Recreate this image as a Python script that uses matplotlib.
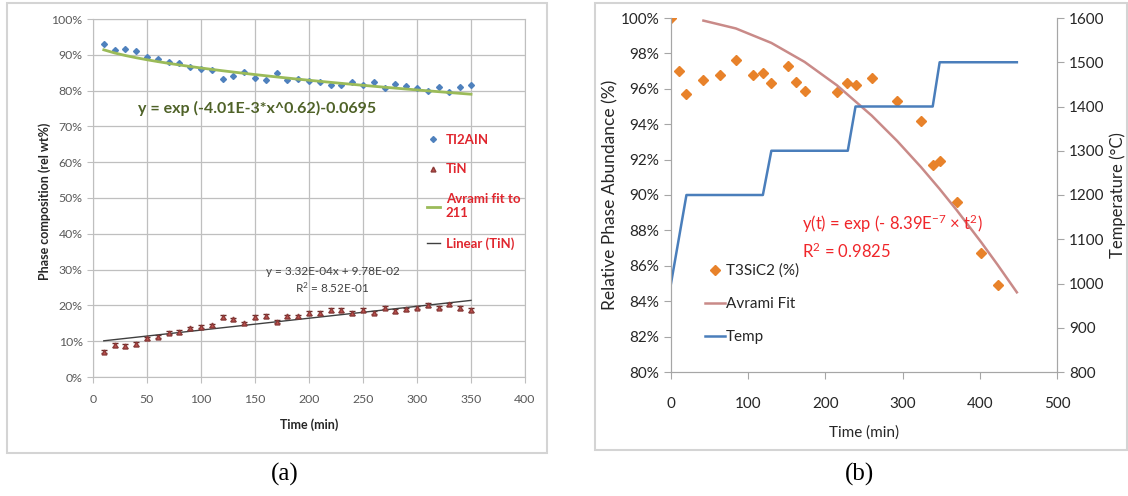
# Dos gráficas lado a lado: (a) composición de fases Ti2AlN / TiN con sus ajustes
# y (b) abundancia relativa de T3SiC2 con ajuste de Avrami y perfil de temperatura.

import numpy as np
import matplotlib
matplotlib.use('Agg')
import matplotlib.pyplot as plt
import matplotlib.ticker as ticker
from matplotlib.patches import Rectangle

# ---------------- Datos (a) ----------------
tiempo_a = [10, 20, 30, 40, 50, 60, 70, 80, 90, 100, 110, 120, 130, 140, 150, 160, 170, 180,
            190, 200, 210, 220, 230, 240, 250, 260, 270, 280, 290, 300, 310, 320, 330, 340, 350]
ti2aln = [92.9, 91.3, 91.5, 91.1, 89.5, 88.9, 88.0, 87.8, 86.7, 86.1, 85.8, 83.2, 84.0, 85.3,
          83.4, 83.0, 84.8, 83.0, 83.2, 82.6, 82.5, 81.6, 81.6, 82.5, 81.5, 82.5, 80.8, 81.8,
          81.3, 80.6, 80.0, 81.1, 79.7, 80.9, 81.5]
tin = [7.1, 8.9, 8.7, 9.2, 10.8, 11.3, 12.4, 12.6, 13.6, 14.1, 14.4, 16.8, 16.1, 15.0, 16.7,
       17.0, 15.5, 16.9, 16.9, 17.8, 17.8, 18.7, 18.7, 17.8, 18.7, 18.0, 19.4, 18.5, 18.9,
       19.4, 20.1, 19.4, 20.3, 19.2, 18.7]
err_tin = 0.5

# coeficientes de los ajustes que aparecen en la gráfica
avrami_k, avrami_n, avrami_c = 4.01e-3, 0.62, 0.0695
lin_m, lin_b = 3.32e-4, 9.78e-2

# ---------------- Datos (b) ----------------
tiempo_b = [0, 10, 20, 42, 63, 84, 106, 119, 130, 151, 162, 173, 215, 228, 239, 260, 293,
            324, 339, 348, 370, 402, 423]
t3sic2 = [100.0, 97.0, 95.7, 96.5, 96.8, 97.6, 96.8, 96.9, 96.3, 97.3, 96.4, 95.9, 95.8,
          96.3, 96.2, 96.6, 95.3, 94.2, 91.7, 91.9, 89.6, 86.7, 84.9]
tiempo_ajuste_b = [42, 84, 130, 173, 215, 260, 293, 324, 348, 370, 402, 423, 448]
k_b = 8.39e-7

tiempo_temp = [0, 20, 119, 130, 229, 239, 339, 348, 448]
temperatura = [1000, 1200, 1200, 1300, 1300, 1400, 1400, 1500, 1500]

W, H = 1128, 496
fig = plt.figure(figsize=(W / 100, H / 100), dpi=100)


def caja(x0, y0, x1, y1):
    # rectangulo en pixeles (origen arriba a la izquierda)
    return [x0 / W, 1 - y1 / H, (x1 - x0) / W, (y1 - y0) / H]


# marcos grises de cada panel
for x0, y0, x1, y1 in [(7, 3, 547, 453), (595, 3, 1127, 450)]:
    b = caja(x0, y0, x1, y1)
    fig.patches.append(Rectangle((b[0], b[1]), b[2], b[3], transform=fig.transFigure,
                                 fill=False, edgecolor='#d4d4d4', lw=1.5))

lato = ['Lato', 'DejaVu Sans']
gris = '#595959'
oscuro = '#262626'

# ================= Panel (a) =================
ax = fig.add_axes(caja(93, 19, 525, 377))
t = np.array(tiempo_a, dtype=float)
ajuste_a = (np.exp(-avrami_k * t ** avrami_n) - avrami_c) * 100
lineal_a = (lin_m * t + lin_b) * 100

ha1, = ax.plot(t, ti2aln, ls='none', marker='D', ms=3, color='#4f81bd', label='TI2AIN')
ha2 = ax.errorbar(t, tin, yerr=err_tin, ls='none', marker='^', ms=3.5, color='#c0504d',
                  mec='#8b3a38', ecolor='#6b2a28', elinewidth=0.8, capsize=2, label='TiN')
ha3, = ax.plot(t, ajuste_a, color='#9bbb59', lw=2, label='Avrami fit to\n211')
ha4, = ax.plot(t, lineal_a, color='#404040', lw=1, label='Linear (TiN)')

ax.set_xlim(0, 400)
ax.set_ylim(0, 100)
ax.xaxis.set_major_locator(ticker.MultipleLocator(50))
ax.yaxis.set_major_locator(ticker.MultipleLocator(10))
ax.yaxis.set_major_formatter(ticker.PercentFormatter(decimals=0))
ax.grid(True, color='#bfbfbf', lw=0.9)
ax.set_axisbelow(True)
for s in ax.spines.values():
    s.set_color('#bfbfbf')
ax.tick_params(colors='#bfbfbf', labelcolor=gris, length=4, direction='out')
for lab in ax.get_xticklabels() + ax.get_yticklabels():
    lab.set_family(lato)
    lab.set_fontsize(8.8)
ax.tick_params(axis='x', pad=8)

ax.set_xlabel('Time (min)', family=lato, fontsize=9, fontweight='bold', color=oscuro)
ax.xaxis.set_label_coords(0.5, -0.115)
ax.set_ylabel('Phase composition (rel wt%)', family=lato, fontsize=9,
              fontweight='bold', color=oscuro)
ax.yaxis.set_label_coords(-0.098, 0.49)

ax.text(0.105, 0.75, 'y = exp (-4.01E-3*x^0.62)-0.0695', transform=ax.transAxes,
        family=lato, fontsize=11.5, fontweight='bold', color='#4f6228', va='center')
ax.text(0.555, 0.295, 'y = 3.32E-04x + 9.78E-02', transform=ax.transAxes,
        family=lato, fontsize=8.5, color='#404040', ha='center', va='center')
ax.text(0.555, 0.25, 'R$^2$ = 8.52E-01', transform=ax.transAxes,
        family=lato, fontsize=8.5, color='#404040', ha='center', va='center')

# en la leyenda solo el triangulo de TiN, sin la barra de error
leg = ax.legend(handles=[ha1, ha2[0], ha3, ha4],
                labels=['TI2AIN', 'TiN', 'Avrami fit to\n211', 'Linear (TiN)'],
                loc='upper left', bbox_to_anchor=(420 / W, 1 - 127 / H),
                bbox_transform=fig.transFigure, frameon=False, borderpad=0,
                handlelength=1.0, handletextpad=0.45, labelspacing=1.35,
                prop={'family': lato, 'size': 9.5, 'weight': 'bold'})
for txt in leg.get_texts():
    txt.set_color('#e0262e')

# ================= Panel (b) =================
plt.rcParams['mathtext.fontset'] = 'custom'
plt.rcParams['mathtext.rm'] = 'Lato'
plt.rcParams['mathtext.default'] = 'regular'

axb = fig.add_axes(caja(671, 18, 1057, 372))
axt = axb.twinx()

tb = np.array(tiempo_ajuste_b, dtype=float)
ajuste_b = np.exp(-k_b * tb ** 2) * 100

h1, = axb.plot(tiempo_b, t3sic2, ls='none', marker='D', ms=5, color='#e8822a',
               label='T3SiC2 (%)')
h2, = axb.plot(tb, ajuste_b, color='#c98a88', lw=1.8, label='Avrami Fit')
h3, = axt.plot(tiempo_temp, temperatura, color='#4a7ebb', lw=1.8, label='Temp')

axb.set_xlim(0, 500)
axb.set_ylim(80, 100)
axt.set_ylim(800, 1600)
axb.xaxis.set_major_locator(ticker.MultipleLocator(100))
axb.yaxis.set_major_locator(ticker.MultipleLocator(2))
axb.yaxis.set_major_formatter(ticker.PercentFormatter(decimals=0))
axt.yaxis.set_major_locator(ticker.MultipleLocator(100))

for a in (axb, axt):
    for s in a.spines.values():
        s.set_color('#a6a6a6')
    a.spines['top'].set_visible(False)
    a.tick_params(colors='#a6a6a6', labelcolor=oscuro, length=5, direction='out',
                  labelsize=11)
axb.tick_params(axis='x', pad=13)
for lab in axb.get_xticklabels() + axb.get_yticklabels() + axt.get_yticklabels():
    lab.set_family(lato)

axb.set_xlabel('Time (min)', family=lato, fontsize=11, color=oscuro)
axb.xaxis.set_label_coords(0.5, -0.15)
axb.set_ylabel('Relative Phase Abundance (%)', family=lato, fontsize=12.5, color=oscuro)
axb.yaxis.set_label_coords(-0.135, 0.5)
axt.set_ylabel('Temperature (°C)', family=lato, fontsize=12, color=oscuro)
axt.yaxis.set_label_coords(1.137, 0.5)

axb.text(0.34, 0.418, r'y(t) = exp (- 8.39E$^{-7}$ × t$^{2}$)', transform=axb.transAxes,
         family=lato, fontsize=12, color='#f0262a', va='center')
axb.text(0.34, 0.34, r'R$^{2}$ = 0.9825', transform=axb.transAxes,
         family=lato, fontsize=12, color='#f0262a', va='center')

legb = axb.legend(handles=[h1, h2, h3], loc='upper left',
                  bbox_to_anchor=(697 / W, 1 - 256 / H), bbox_transform=fig.transFigure,
                  frameon=False, borderpad=0, handlelength=1.3, handletextpad=0.1,
                  labelspacing=1.25, prop={'family': lato, 'size': 11})
for txt in legb.get_texts():
    txt.set_color(oscuro)

# etiquetas de los paneles
serif = ['Liberation Serif', 'DejaVu Serif']
fig.text(285 / W, 1 - 474 / H, '(a)', family=serif, fontsize=18, ha='center', va='center')
fig.text(860 / W, 1 - 474 / H, '(b)', family=serif, fontsize=18, ha='center', va='center')

plt.savefig('out.png', dpi=100)
